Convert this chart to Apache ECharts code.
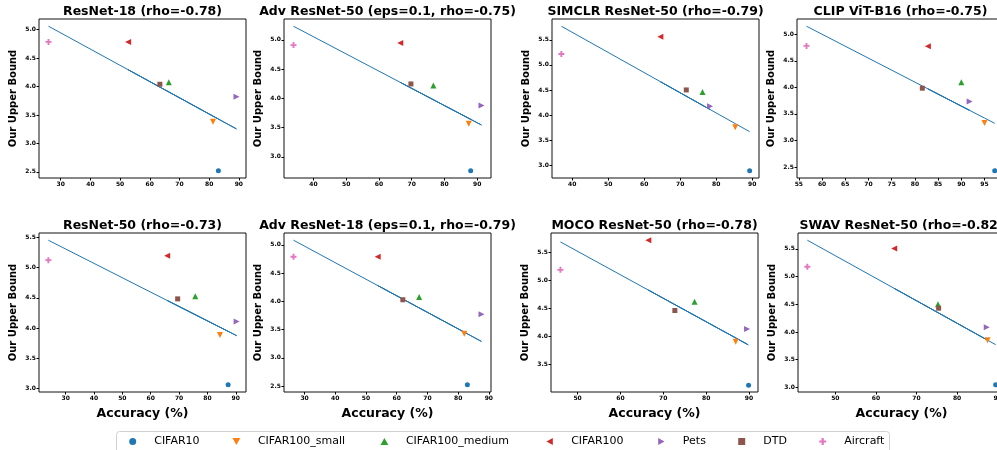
<!DOCTYPE html>
<html>
<head>
<meta charset="utf-8">
<script src="https://cdn.jsdelivr.net/npm/echarts@6/dist/echarts.min.js"></script>
<style>
html,body{margin:0;padding:0;background:#fff;}
#chart{width:997px;height:450px;}
</style>
</head>
<body>
<div id="chart"></div>
<script>
// ---- data ----
const categories = ['CIFAR10', 'CIFAR100_small', 'CIFAR100_medium', 'CIFAR100', 'Pets', 'DTD', 'Aircraft'];
const panelTitles = ['ResNet-18 (rho=-0.78)', 'Adv ResNet-50 (eps=0.1, rho=-0.75)', 'SIMCLR ResNet-50 (rho=-0.79)', 'CLIP ViT-B16 (rho=-0.75)',
                     'ResNet-50 (rho=-0.73)', 'Adv ResNet-18 (eps=0.1, rho=-0.79)', 'MOCO ResNet-50 (rho=-0.78)', 'SWAV ResNet-50 (rho=-0.82)'];

// accuracy (%) per category, same order as categories
const accResNet18    = [83.1, 81.3, 66.4, 52.7, 89.2, 63.4, 25.9];
const accAdvResNet50 = [88.0, 87.4, 76.6, 66.5, 91.3, 69.75, 33.9];
const accSimclr      = [89.3, 85.3, 76.2, 64.5, 78.3, 71.7, 37.0];
const accClip        = [97.2, 95.0, 90.0, 82.8, 91.8, 81.6, 56.65];
const accResNet50    = [87.3, 84.4, 75.7, 65.8, 90.3, 69.5, 23.9];
const accAdvResNet18 = [83.0, 82.0, 67.3, 53.8, 87.6, 62.0, 26.4];
const accMoco        = [89.9, 86.9, 77.3, 66.5, 89.55, 72.7, 46.0];
const accSwav        = [89.5, 87.5, 75.3, 64.5, 87.3, 75.45, 43.1];

// upper bound per category
const boundResNet18    = [2.52, 3.38, 4.075, 4.785, 3.82, 4.04, 4.785];
const boundAdvResNet50 = [2.762, 3.567, 4.22, 4.945, 3.878, 4.246, 4.91];
const boundSimclr      = [2.888, 3.754, 4.46, 5.56, 4.177, 4.50, 5.216];
const boundClip        = [2.43, 3.33, 4.096, 4.775, 3.734, 3.984, 4.78];
const boundResNet50    = [3.06, 3.885, 4.527, 5.198, 4.11, 4.484, 5.126];
const boundAdvResNet18 = [2.523, 3.425, 4.075, 4.79, 3.77, 4.028, 4.79];
const boundMoco        = [3.126, 3.90, 4.616, 5.714, 4.129, 4.46, 5.185];
const boundSwav        = [3.048, 3.85, 4.50, 5.506, 4.088, 4.43, 5.177];

// fitted-line value read at each category's accuracy (plotted in category order)
const fitResNet18    = [3.43, 3.48, 3.905, 4.296, 3.255, 3.991, 5.06];
const fitAdvResNet50 = [3.641, 3.659, 3.976, 4.273, 3.544, 4.178, 5.232];
const fitSimclr      = [3.668, 3.829, 4.195, 4.665, 4.110, 4.376, 5.771];
const fitClip        = [3.323, 3.422, 3.647, 3.972, 3.566, 4.026, 5.15];
const fitResNet50    = [3.945, 4.014, 4.222, 4.458, 3.874, 4.369, 5.456];
const fitAdvResNet18 = [3.425, 3.454, 3.884, 4.280, 3.29, 4.040, 5.082];
const fitMoco        = [3.844, 3.970, 4.372, 4.825, 3.859, 4.565, 5.684];
const fitSwav        = [3.772, 3.853, 4.349, 4.787, 3.861, 4.343, 5.656];

// axis ranges and tick labels
const xRanges = [[22.7, 92.4], [31.0, 94.2], [34.4, 91.9], [54.6, 99.2], [20.6, 93.6], [23.3, 90.7], [43.8, 92.1], [40.8, 91.8]];
const yRanges = [[2.393, 5.187], [2.639, 5.356], [2.744, 5.915], [2.294, 5.286], [2.94, 5.576], [2.395, 5.21], [3.005, 5.843], [2.918, 5.786]];
const xTicks = [[30, 40, 50, 60, 70, 80, 90], [40, 50, 60, 70, 80, 90], [40, 50, 60, 70, 80, 90], [55, 60, 65, 70, 75, 80, 85, 90, 95],
                [30, 40, 50, 60, 70, 80, 90], [30, 40, 50, 60, 70, 80, 90], [50, 60, 70, 80, 90], [50, 60, 70, 80, 90]];
const yTicks = [[2.5, 3.0, 3.5, 4.0, 4.5, 5.0], [3.0, 3.5, 4.0, 4.5, 5.0], [3.0, 3.5, 4.0, 4.5, 5.0, 5.5], [2.5, 3.0, 3.5, 4.0, 4.5, 5.0],
                [3.0, 3.5, 4.0, 4.5, 5.0, 5.5], [2.5, 3.0, 3.5, 4.0, 4.5, 5.0], [3.5, 4.0, 4.5, 5.0, 5.5], [3.0, 3.5, 4.0, 4.5, 5.0, 5.5]];

const accs = [accResNet18, accAdvResNet50, accSimclr, accClip, accResNet50, accAdvResNet18, accMoco, accSwav];
const bounds = [boundResNet18, boundAdvResNet50, boundSimclr, boundClip, boundResNet50, boundAdvResNet18, boundMoco, boundSwav];
const fits = [fitResNet18, fitAdvResNet50, fitSimclr, fitClip, fitResNet50, fitAdvResNet18, fitMoco, fitSwav];

// ---- styles / layout ----
const FONT = 'DejaVu Sans';
const colors = ['#1f77b4', '#ff7f0e', '#2ca02c', '#d62728', '#9467bd', '#8c564b', '#e377c2'];
const symbols = [
  'circle',
  'path://M0,0L10,0L5,9Z',
  'path://M5,0L10,9L0,9Z',
  'path://M9,0L9,10L0,5Z',
  'path://M0,0L9,5L0,10Z',
  'path://M0,0H10V10H0Z',
  'path://M3.4,0H6.6V3.4H10V6.6H6.6V10H3.4V6.6H0V3.4H3.4Z'
];
const symbolSizes = [5, 6, 6, 6, 6, 5, 6];

const gridLefts = [39, 284, 552, 797, 39, 284, 551, 798];
const gridTops = [19, 19, 19, 19, 233, 233, 233, 233];
const GW = 207, GH = 159;
const legendLefts = [129.2, 232.5, 380.5, 546.5, 658.2, 738.2, 819.2];

const grids = [], xAxes = [], yAxes = [], series = [], titles = [], legends = [];
for (let p = 0; p < 8; p++) {
  const bottomRow = p >= 4;
  grids.push({left: gridLefts[p], top: gridTops[p], width: GW, height: GH, outerBoundsMode: 'none', containLabel: false,
              show: true, borderColor: '#111', borderWidth: 1, backgroundColor: 'transparent'});
  titles.push({text: panelTitles[p], left: gridLefts[p] + GW / 2, top: gridTops[p] - 14, textAlign: 'center',
               padding: 0, textStyle: {fontFamily: FONT, fontSize: 12.5, fontWeight: 'bold', color: '#000'}});
  xAxes.push({type: 'value', gridIndex: p, min: xRanges[p][0], max: xRanges[p][1],
              name: bottomRow ? 'Accuracy (%)' : '', nameLocation: 'middle', nameGap: 15,
              nameTextStyle: {fontFamily: FONT, fontSize: 12.5, fontWeight: 'bold', color: '#000'},
              axisLine: {show: false}, splitLine: {show: false},
              axisTick: {show: true, inside: false, length: 2.5, lineStyle: {color: '#000'}, customValues: xTicks[p]},
              axisLabel: {customValues: xTicks[p], margin: 3, fontFamily: FONT, fontSize: 6, fontWeight: 'bold', color: '#000',
                          formatter: v => String(Math.round(v))}});
  yAxes.push({type: 'value', gridIndex: p, min: yRanges[p][0], max: yRanges[p][1],
              name: 'Our Upper Bound', nameLocation: 'middle', nameGap: 21,
              nameTextStyle: {fontFamily: FONT, fontSize: 10, fontWeight: 'bold', color: '#000'},
              axisLine: {show: false}, splitLine: {show: false},
              axisTick: {show: true, inside: false, length: 2.5, lineStyle: {color: '#000'}, customValues: yTicks[p]},
              axisLabel: {customValues: yTicks[p], margin: 3, fontFamily: FONT, fontSize: 6, fontWeight: 'bold', color: '#000',
                          formatter: v => v.toFixed(1)}});
  // fit line: each consecutive segment drawn separately (points in category order)
  for (let i = 0; i < categories.length - 1; i++) {
    series.push({type: 'line', name: 'fit', xAxisIndex: p, yAxisIndex: p, silent: true, showSymbol: false, symbol: 'none',
                 z: 1, animation: false,
                 lineStyle: {color: '#1f77b4', width: 1},
                 data: [[accs[p][i], fits[p][i]], [accs[p][i + 1], fits[p][i + 1]]]});
  }
  for (let c = 0; c < categories.length; c++) {
    series.push({type: 'scatter', name: categories[c], xAxisIndex: p, yAxisIndex: p, z: 3, animation: false,
                 symbol: symbols[c], symbolSize: symbolSizes[c], itemStyle: {color: colors[c], opacity: 1},
                 data: [[accs[p][c], bounds[p][c]]]});
  }
}
for (let c = 0; c < categories.length; c++) {
  legends.push({left: legendLefts[c], top: 436, orient: 'horizontal', padding: 0,
                itemWidth: 33, itemHeight: 7, itemGap: 0, selectedMode: false,
                textStyle: {fontFamily: FONT, fontSize: 11, color: '#000'},
                data: [{name: categories[c], icon: symbols[c], itemStyle: {color: colors[c]}}]});
}

const chart = echarts.init(document.getElementById('chart'), null, {renderer: 'canvas'});
chart.setOption({
  animation: false,
  backgroundColor: '#fff',
  title: titles,
  grid: grids,
  xAxis: xAxes,
  yAxis: yAxes,
  legend: legends,
  graphic: [{type: 'rect', left: 116, top: 431, z: -1,
             shape: {width: 773, height: 22, r: 3},
             style: {fill: '#fff', stroke: '#d0d0d0', lineWidth: 1}}],
  series: series
});
</script>
</body>
</html>
